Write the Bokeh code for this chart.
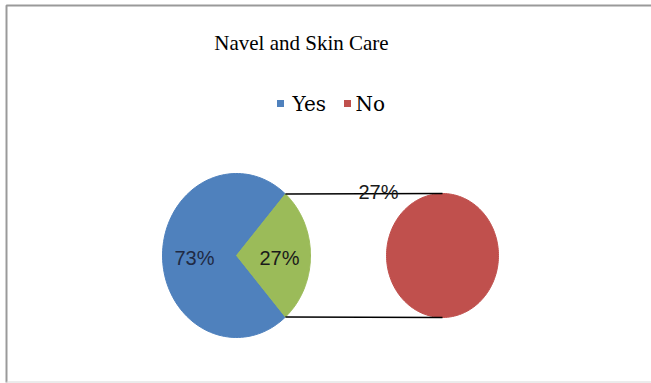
import numpy as np
from bokeh.plotting import figure
from bokeh.models import Range1d
from bokeh.core.properties import value
from bokeh.embed import file_html
from bokeh.resources import INLINE

title = "Navel and Skin Care"
categories = ["Yes", "No"]
values = [73, 27]
colors = ["#4F81BD", "#C0504D"]
split_color = "#9BBB59"

W, H = 651, 383
p = figure(width=W, height=H, output_backend="svg", toolbar_location=None,
           x_range=Range1d(0, W), y_range=Range1d(0, H), min_border=0,
           outline_line_color=None)
p.axis.visible = False
p.grid.visible = False
p.background_fill_color = "white"
p.border_fill_color = "white"

def Y(py):
    return H - py

# border
p.line([6, 6, W], [Y(382), Y(5), Y(5)], line_color="#9a9a9a", line_width=2)
p.line([6, W], [Y(381.5), Y(381.5)], line_color="#d8d8d8", line_width=1)

# main pie
cx, cy, rx, ry = 236, Y(255), 74, 82
total = sum(values)
half = np.pi * values[1] / total  # half-angle of split slice
def wedge(cx, cy, rx, ry, a0, a1, n=120):
    t = np.linspace(a0, a1, n)
    xs = np.concatenate([[cx], cx + rx * np.cos(t), [cx]])
    ys = np.concatenate([[cy], cy + ry * np.sin(t), [cy]])
    return xs, ys

xs, ys = wedge(cx, cy, rx, ry, half, 2 * np.pi - half)
p.patch(xs, ys, fill_color=colors[0], line_color=colors[0])
xs, ys = wedge(cx, cy, rx, ry, -half, half)
p.patch(xs, ys, fill_color=split_color, line_color=split_color)

# secondary pie
cx2, cy2, rx2, ry2 = 442, Y(255), 56, 62
xs, ys = wedge(cx2, cy2, rx2, ry2, 0, 2 * np.pi, 200)
p.patch(xs[1:-1], ys[1:-1], fill_color=colors[1], line_color=colors[1])

# connector lines
ex = cx + rx * np.cos(half)
ey = ry * np.sin(half)
p.line([ex, cx2], [cy + ey, cy2 + ry2], line_color="black", line_width=1.7)
p.line([ex, cx2], [cy - ey, cy2 - ry2], line_color="black", line_width=1.7)

lab_font = value("Liberation Sans")
p.text([194], [Y(257)], text=[f"{values[0]}%"], text_font=lab_font,
       text_font_size="20px", text_align="center", text_baseline="middle", text_color="#1f2a44")
p.text([279], [Y(257)], text=[f"{values[1]}%"], text_font=lab_font,
       text_font_size="20px", text_align="center", text_baseline="middle", text_color="#1a1a1a")
p.text([378], [Y(191)], text=[f"{values[1]}%"], text_font=lab_font,
       text_font_size="20px", text_align="center", text_baseline="middle", text_color="#1a1a1a")

# title
p.text([301], [Y(42)], text=[title], text_font=value("Liberation Serif"), text_font_size="21px",
       text_align="center", text_baseline="middle", text_color="black")

# legend
p.rect([280, 347], [Y(103), Y(103)], width=7, height=7, fill_color=colors, line_color=None)
p.text([292, 355], [Y(103), Y(103)], text=categories, text_font=value("DejaVu Serif"),
       text_font_size="20px", text_align="left", text_baseline="middle", text_color="black")

open("out.html", "w").write(file_html(p, INLINE))
